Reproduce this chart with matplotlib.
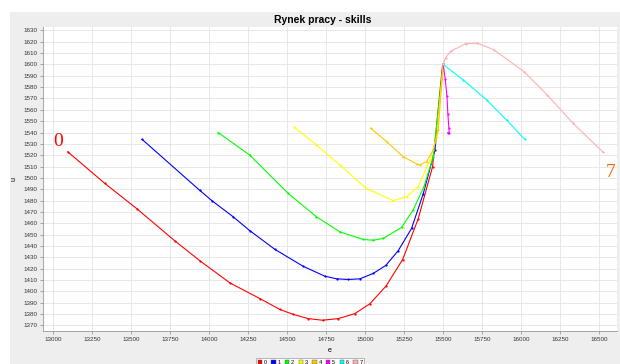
import numpy as np
import matplotlib
matplotlib.use('Agg')
import matplotlib.pyplot as plt
from matplotlib.patches import Rectangle, Patch

# series (e, u)
e0 = [13094, 13331, 13535, 13780, 13940, 14133, 14325, 14453, 14538, 14635, 14727, 14827, 14934,
      15030, 15133, 15240, 15340, 15432, 15496]
u0 = [1523, 1495.2, 1473, 1444.5, 1427, 1407.4, 1393.6, 1384, 1379.7, 1375.9, 1374.5, 1375.9, 1380.3,
      1389, 1404.5, 1428, 1464, 1510, 1600]

e1 = [13570, 13940, 14017, 14154, 14261, 14421, 14603, 14742, 14817, 14891, 14966,
      15051, 15132, 15211, 15297, 15372, 15447, 15500]
u1 = [1534, 1489, 1480, 1465.7, 1453.4, 1437, 1422, 1413.3, 1411, 1410.4, 1411,
      1415.7, 1422.8, 1435.7, 1455.4, 1486, 1524.6, 1600]

e2 = [14058, 14261, 14506, 14688, 14838, 14987, 15051, 15115, 15233, 15307, 15376, 15436, 15500]
u2 = [1540, 1520, 1486.4, 1465.7, 1452.4, 1445.7, 1445, 1446.6, 1456.3, 1471.6, 1492, 1518.5, 1600]

e3 = [14545, 14688, 14838, 15005, 15179, 15265, 15340, 15415, 15458, 15500]
u3 = [1544.7, 1529, 1511.4, 1490.8, 1480, 1483.4, 1492.2, 1515.6, 1536.4, 1600]

e4 = [15035, 15137, 15244, 15329, 15350, 15393, 15436, 15468, 15500]
u4 = [1543.8, 1532, 1518.7, 1512.3, 1511.5, 1514.3, 1524.6, 1542, 1600]

e5 = [15500, 15513, 15524, 15530, 15536, 15538, 15530]
u5 = [1600, 1587, 1572, 1556, 1544, 1540, 1540]

e6 = [15500, 15628, 15778, 15906, 16023]
u6 = [1600, 1586.4, 1568.8, 1551, 1534]

e7 = [15500, 15515, 15547, 15643, 15718, 15824, 16017, 16167, 16333, 16522]
u7 = [1600, 1606, 1611.5, 1618.3, 1618.8, 1613, 1593.8, 1573, 1548, 1523]

series = [(e0, u0), (e1, u1), (e2, u2), (e3, u3), (e4, u4), (e5, u5), (e6, u6), (e7, u7)]
names = ['0', '1', '2', '3', '4', '5', '6', '7']
colors = ['#ff0000', '#0000ff', '#00ff00', '#ffff00', '#ffc800', '#ff00ff', '#00ffff', '#ffafaf']

xticks = np.arange(13000, 16501, 250)
yticks = np.arange(1370, 1631, 10)

plt.rcParams['font.family'] = ['Liberation Sans', 'DejaVu Sans']

fig = plt.figure(figsize=(6.2, 3.64), dpi=100, facecolor='white')
fig.patches.append(Rectangle((0.016, 0), 0.984, 0.968, transform=fig.transFigure,
                             facecolor='#eeeeee', edgecolor='none', zorder=-10))
ax = fig.add_axes([0.069, 0.0907, 0.926, 0.835])
ax.set_facecolor('white')

for (e, u), c, n in zip(series, colors, names):
    ax.plot(e, u, '-', color=c, lw=0.8, marker='o', ms=1.6, mew=0, label=n)

ax.text(13030, 1531.7, '0', color='#ff0000', fontsize=14, family='Liberation Serif',
        ha='center', va='center')
ax.text(16575, 1505, '7', color='#ee6a16', fontsize=14, family='Liberation Serif',
        ha='center', va='center')

ax.set_xlim(12934, 16613)
ax.set_ylim(1365, 1633)
ax.set_xticks(xticks)
ax.set_yticks(yticks)
ax.tick_params(labelsize=4.5, length=2, width=0.5, color='#888888', labelcolor='#333333', pad=2)
ax.grid(True, color='#e4e4e4', lw=0.6)
ax.set_axisbelow(True)
for s in ['top', 'right']:
    ax.spines[s].set_visible(False)
for s in ['left', 'bottom']:
    ax.spines[s].set_color('#999999')
    ax.spines[s].set_linewidth(0.6)

ax.set_xlabel('e', fontsize=5, labelpad=4)
ax.set_ylabel('u', fontsize=5, labelpad=4)
fig.text(0.52, 0.945, 'Rynek pracy - skills', fontsize=7.5, fontweight='bold',
         ha='center', va='center')

# square colour patches as in the original legend
handles = [Patch(facecolor=c, edgecolor='#555555', lw=0.3) for c in colors]
leg = fig.legend(handles, names, loc='center', bbox_to_anchor=(0.5, 0.005), ncol=8, fontsize=4,
                 handlelength=0.8, handleheight=0.8, handletextpad=0.3, columnspacing=0.8,
                 frameon=True, fancybox=False, borderpad=0.3)
leg.get_frame().set_edgecolor('#888888')
leg.get_frame().set_linewidth(0.5)

plt.savefig('out.png', dpi=100, facecolor=fig.get_facecolor())
